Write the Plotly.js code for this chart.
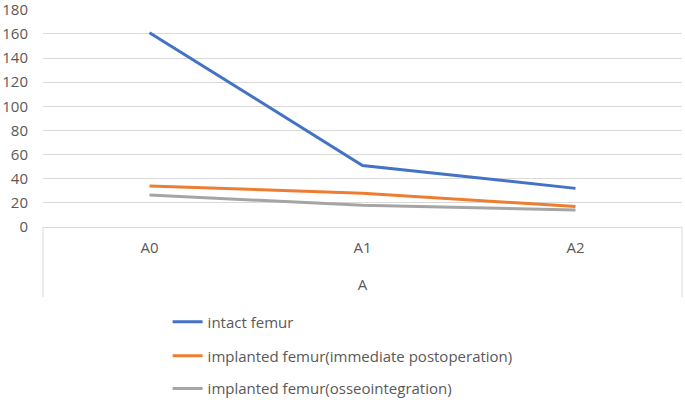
<!DOCTYPE html>
<html>
<head>
<meta charset="utf-8">
<script src="https://cdn.plot.ly/plotly-3.0.1.min.js"></script>
<style>html,body{margin:0;padding:0;background:#fff;}#chart{width:685px;height:400px;}</style>
</head>
<body>
<div id="chart"></div>
<script>
const categories = ["A0", "A1", "A2"];
const axisTitle = "A";
const intactFemur = [161, 51, 32];
const implantedImmediate = [34, 28, 17];
const implantedOsseo = [26.5, 18, 14];
const seriesNames = ["intact femur", "implanted femur(immediate postoperation)", "implanted femur(osseointegration)"];
const yTicks = [0, 20, 40, 60, 80, 100, 120, 140, 160, 180];

const FONT = "Open Sans, Noto Sans, sans-serif";
const TXT = "#595959";

const traces = [
  {x: categories, y: intactFemur, name: seriesNames[0], type: "scatter", mode: "lines",
   line: {color: "#4472C4", width: 3}, legend: "legend"},
  {x: categories, y: implantedImmediate, name: seriesNames[1], type: "scatter", mode: "lines",
   line: {color: "#ED7D31", width: 3}, legend: "legend2"},
  {x: categories, y: implantedOsseo, name: seriesNames[2], type: "scatter", mode: "lines",
   line: {color: "#A5A5A5", width: 3}, legend: "legend3"}
];

const legBase = {x: 0.195, xanchor: "left", yanchor: "middle", bgcolor: "rgba(0,0,0,0)",
  font: {family: FONT, size: 15, color: TXT}, borderwidth: 0};

const layout = {
  width: 685, height: 400,
  margin: {l: 43, r: 3, t: 9, b: 173, autoexpand: false},
  paper_bgcolor: "#fff", plot_bgcolor: "#fff",
  font: {family: FONT, size: 15, color: TXT},
  xaxis: {
    type: "category", range: [-0.5, 2.5], fixedrange: true,
    showgrid: false, zeroline: false,
    showline: true, linecolor: "#d9d9d9", linewidth: 1,
    ticks: "", ticklabelstandoff: 7,
    tickfont: {family: FONT, size: 15, color: TXT},
    title: {text: axisTitle, font: {family: FONT, size: 15, color: TXT}, standoff: 23}
  },
  yaxis: {
    range: [0, 180.6], tickvals: yTicks, ticktext: yTicks.map(String),
    showgrid: true, gridcolor: "#d9d9d9", gridwidth: 1,
    zeroline: false, showline: false, ticks: "", ticklabelstandoff: 14,
    ticklabeloverflow: "allow",
    tickfont: {family: FONT, size: 15, color: TXT}
  },
  showlegend: true,
  legend: Object.assign({}, legBase, {y: -0.436}),
  legend2: Object.assign({}, legBase, {y: -0.592}),
  legend3: Object.assign({}, legBase, {y: -0.742}),
  shapes: [
    {type: "line", xref: "paper", yref: "paper", x0: 0, x1: 0, y0: 0, y1: -0.321,
     line: {color: "#d9d9d9", width: 1}},
    {type: "line", xref: "paper", yref: "paper", x0: 1, x1: 1, y0: 0, y1: -0.321,
     line: {color: "#d9d9d9", width: 1}}
  ]
};

Plotly.newPlot("chart", traces, layout, {displayModeBar: false, staticPlot: true});
</script>
</body>
</html>
